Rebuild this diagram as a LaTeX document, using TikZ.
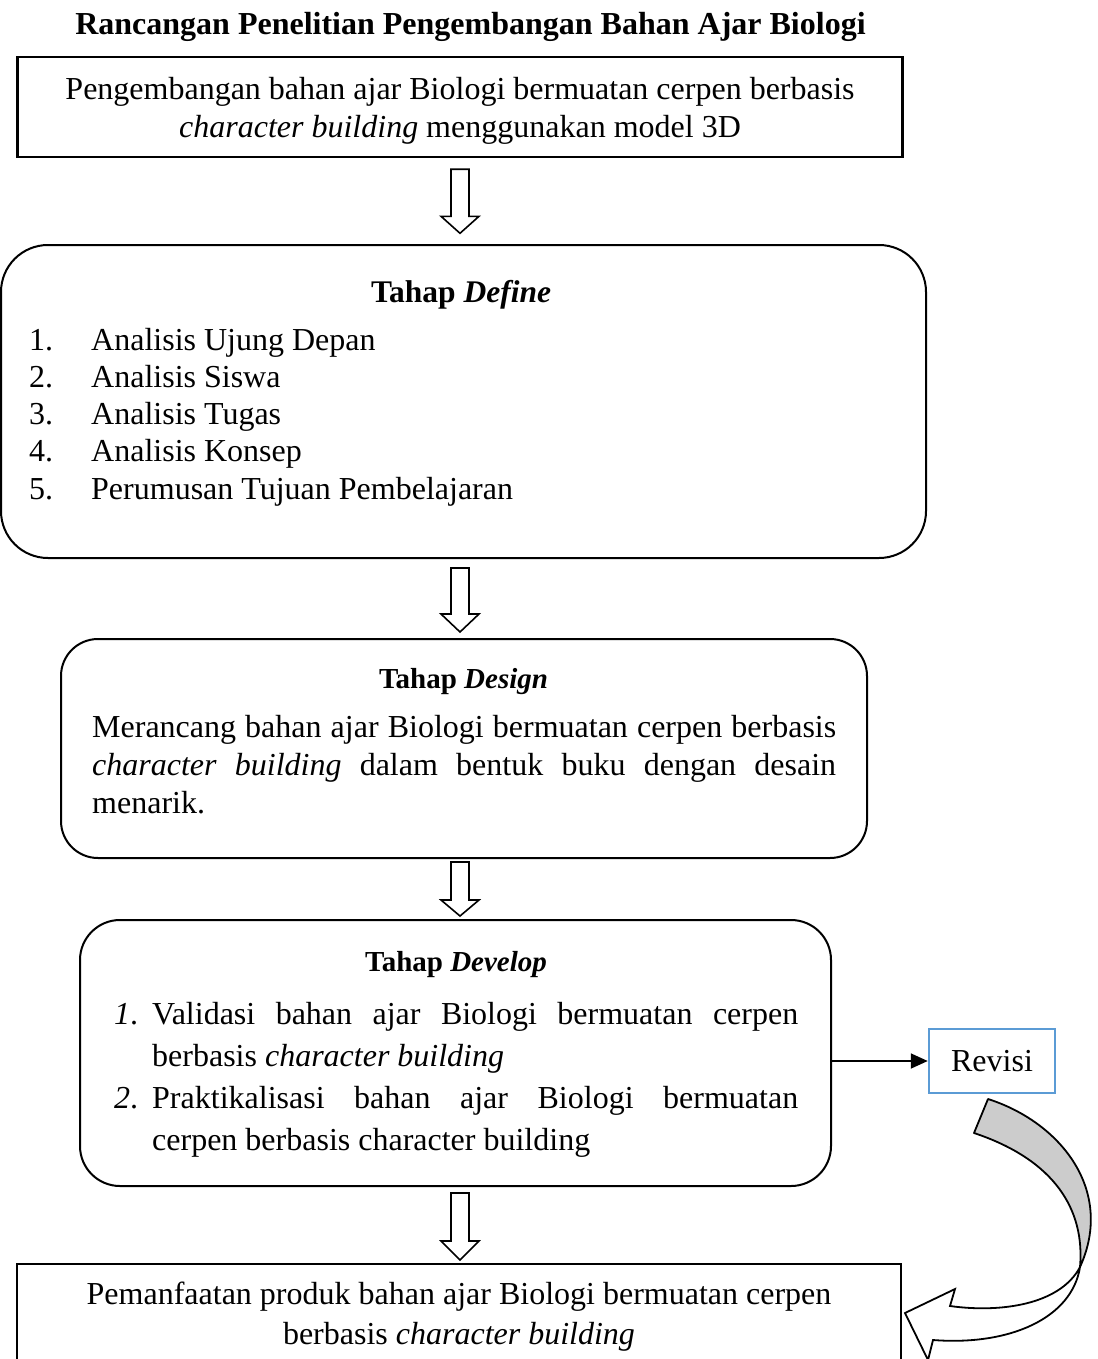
\documentclass[tikz,border=0pt]{standalone}
\usepackage{fontspec}
\setmainfont{Liberation Serif}
\usetikzlibrary{arrows.meta,calc}
\definecolor{revblue}{HTML}{5B9BD5}
\definecolor{bandgray}{HTML}{CCCCCC}
\begin{document}
\begin{tikzpicture}[x=1pt,y=-1pt,
  txt/.style={font=\fontsize{32}{38}\selectfont, inner sep=0pt, anchor=base},
  txtl/.style={txt, anchor=base west},
  hd/.style={font=\fontsize{29}{34}\selectfont\bfseries, inner sep=0pt, anchor=base},
  sqbox/.style={draw, line width=2.6pt, inner sep=0pt},
  rbox/.style={draw, line width=2pt, inner sep=0pt},
  pics/blockdown/.style 2 args={code={
    \draw[line width=1.6pt, fill=white, line join=miter]
      (-9,0) -- (9,0) -- (9,#1-#2) -- (19,#1-#2) -- (0,#1)
      -- (-19,#1-#2) -- (-9,#1-#2) -- cycle;}}]
\useasboundingbox (0,0) rectangle (1097,1359);
\fill[white] (0,0) rectangle (1097,1359);

% title
\node[font=\fontsize{32}{38}\selectfont\bfseries, inner sep=0pt, anchor=base] (title) at (470.5,35)
  {Rancangan Penelitian Pengembangan Bahan Ajar Biologi};

% top box
\node[sqbox, minimum width=885pt, minimum height=100pt] (top) at (460,107) {};
\node[txt] (t1) at (460,100) {Pengembangan bahan ajar Biologi bermuatan cerpen berbasis};
\node[txt] (t2) at (460,138) {\textit{character building} menggunakan model 3D};

% define box
\node[rbox, rounded corners=47pt, minimum width=925pt, minimum height=313pt] (define) at (463.5,401.5) {};
\node[font=\fontsize{31.5}{36}\selectfont\bfseries, inner sep=0pt, anchor=base] (dh) at (461,302) {Tahap \textit{Define}};
\node[txtl] (dn1) at (29,350) {1.};
\node[txtl] (dn2) at (29,387) {2.};
\node[txtl] (dn3) at (29,424) {3.};
\node[txtl] (dn4) at (29,461) {4.};
\node[txtl] (dn5) at (29,499) {5.};
\node[txtl] (d1) at (91,350) {Analisis Ujung Depan};
\node[txtl] (d2) at (91,387) {Analisis Siswa};
\node[txtl] (d3) at (91,424) {Analisis Tugas};
\node[txtl] (d4) at (91,461) {Analisis Konsep};
\node[txtl] (d5) at (91,499) {Perumusan Tujuan Pembelajaran};

% design box
\node[rbox, rounded corners=37pt, minimum width=806pt, minimum height=219pt] (design) at (464,748.5) {};
\node[hd] (sh) at (463.5,688) {Tahap \textit{Design}};
\node[txtl] (s1) at (92,737) {\makebox[744pt][s]{Merancang bahan ajar Biologi bermuatan cerpen berbasis}};
\node[txtl] (s2) at (92,775) {\makebox[744pt][s]{\textit{character building} dalam bentuk buku dengan desain}};
\node[txtl] (s3) at (92,813) {menarik.};

% develop box
\node[rbox, rounded corners=40pt, minimum width=751pt, minimum height=266pt] (develop) at (455.5,1053) {};
\node[hd] (vh) at (456,971) {Tahap \textit{Develop}};
\node[txtl] (vn1) at (114,1024) {\textit{1}.};
\node[txtl] (v1) at (152,1024) {\makebox[646pt][s]{Validasi bahan ajar Biologi bermuatan cerpen}};
\node[txtl] (v2) at (152,1066) {berbasis \textit{character building}};
\node[txtl] (vn2) at (114,1108) {\textit{2}.};
\node[txtl] (v3) at (152,1108) {\makebox[646pt][s]{Praktikalisasi bahan ajar Biologi bermuatan}};
\node[txtl] (v4) at (152,1150) {cerpen berbasis character building};

% revisi
\node[draw=revblue, line width=2.5pt, minimum width=126pt, minimum height=64pt, inner sep=0pt,
  font=\fontsize{32}{38}\selectfont] (revisi) at (992,1061) {Revisi};

% bottom box
\node[sqbox, minimum width=884pt, minimum height=120pt] (bottom) at (459,1324) {};
\node[txt] (b1) at (459,1304) {Pemanfaatan produk bahan ajar Biologi bermuatan cerpen};
\node[txt] (b2) at (459,1344) {berbasis \textit{character building}};

% block arrows
\pic at ($(top.south)+(0,11)$) {blockdown={64}{17}};
\pic at ($(top.south |- define.south)+(0,9)$) {blockdown={64}{18}};
\pic at ($(top.south |- design.south)+(0,3)$) {blockdown={54}{16}};
\pic at ($(top.south |- develop.south)+(0,6)$) {blockdown={67}{19}};

% arrow to revisi
\draw[line width=1.8pt, -{Triangle[length=17pt, width=15pt]}] (develop.east |- revisi.west) -- (revisi.west);

% curved arrow from revisi back to bottom box
\coordinate (cT1) at (988,1099);
\coordinate (cT2) at (974,1133);
\coordinate (cX) at (1080,1267);
\coordinate (cA1) at (950,1306);
\coordinate (cH1) at (955,1289);
\coordinate (cTip) at (905,1313);
\coordinate (cH2) at (928,1360);
\coordinate (cA2) at (933,1340);
\filldraw[fill=bandgray, line width=1.8pt, line join=round]
  (cT1) .. controls (1060,1122) and (1115,1190) .. (cX)
  .. controls (1085,1210) and (1055,1160) .. (cT2) -- cycle;
\filldraw[fill=white, line width=1.8pt, line join=miter]
  (cX) .. controls (1060,1305) and (1000,1313) .. (cA1)
  -- (cH1) -- (cTip) -- (cH2) -- (cA2)
  .. controls (1010,1346) and (1072,1318) .. (cX);
\end{tikzpicture}
\end{document}
